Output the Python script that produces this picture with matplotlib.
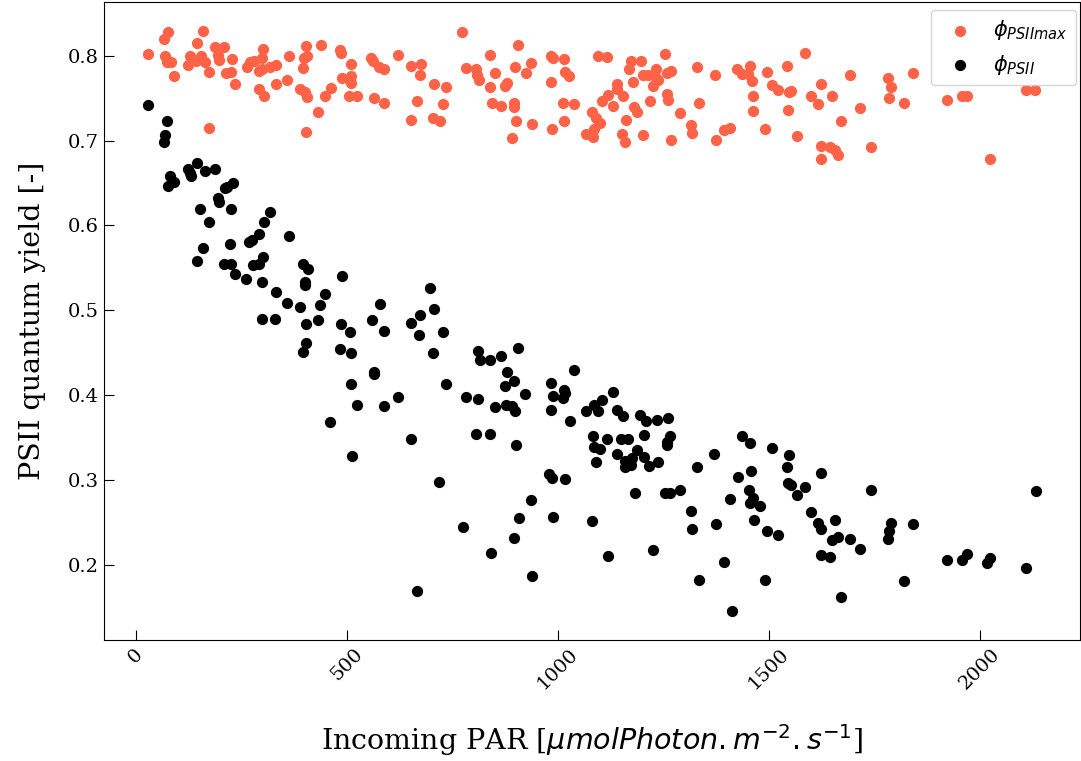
import numpy as np
import matplotlib

matplotlib.use('Agg')
import matplotlib.pyplot as plt

# PSII max quantum yield (red points)
par_max = [
    29.5, 67, 77, 69.5, 72.6, 82, 90.7, 123.7, 129, 145.6, 158, 143, 153.5, 163, 173, 173,
    187, 194, 197, 209, 213, 225, 228, 235, 262.7, 269.7, 280.8, 298.8, 302, 291, 298.8,
    292.5, 303.5, 318.5, 331, 333, 359, 363, 388, 397, 398.5, 406, 404, 401, 405, 402,
    431.5, 437.8, 448, 462, 483.4, 487, 489, 510.7, 509, 510.7, 506, 525, 556, 563, 576,
    589, 565, 588, 620.7, 652, 675, 673, 667, 653,
    707, 736, 727, 703, 720, 773, 783, 807, 809, 813, 838, 851, 838, 843, 866, 873.5, 880,
    898, 906, 897, 897, 901, 892, 925, 935.7, 939.5, 983.5, 987.5, 983, 986, 1015, 1016,
    1027.5, 1011, 1039, 1015, 1095, 1116, 1081, 1091, 1099, 1086, 1067, 1082.5, 1103.6,
    1118, 1139, 1140, 1130, 1155, 1161, 1151, 1159.5, 1169, 1174, 1196, 1177, 1181.5, 1187,
    1202.6, 1202.6, 1214, 1233, 1233, 1224.5, 1237, 1254, 1258, 1267, 1218, 1258, 1261.5,
    1267, 1290.5, 1316, 1318, 1330, 1334.5, 1371.5, 1374.5, 1392.6, 1408, 1425.6, 1436,
    1454.6, 1451.6, 1459, 1463, 1463,
    1495.5, 1506.5, 1520.6, 1542.5, 1547, 1553, 1546, 1491.6, 1567, 1586.6, 1600.7, 1624,
    1615.5, 1649.4, 1624, 1624, 1644, 1655.6, 1662.7, 1672, 1692.6, 1717, 1741.3, 1782,
    1789, 1785, 1820, 1841.7, 1921.8, 1957, 1969, 2023, 2109, 2131,
]
yield_max = [
    0.802, 0.820, 0.828, 0.799, 0.792, 0.792, 0.776, 0.789, 0.800, 0.815, 0.829, 0.794, 0.800, 0.792, 0.781, 0.715,
    0.810, 0.801, 0.795, 0.810, 0.779, 0.781, 0.796, 0.766, 0.786, 0.792, 0.794, 0.797, 0.808, 0.782, 0.784,
    0.761, 0.752, 0.786, 0.789, 0.767, 0.771, 0.799, 0.761, 0.785, 0.797, 0.799, 0.811, 0.757, 0.751, 0.710,
    0.734, 0.813, 0.752, 0.762, 0.807, 0.803, 0.774, 0.790, 0.776, 0.768, 0.752, 0.752, 0.797, 0.794, 0.787,
    0.784, 0.750, 0.744, 0.801, 0.788, 0.790, 0.777, 0.746, 0.724,
    0.766, 0.763, 0.743, 0.726, 0.723, 0.828, 0.785, 0.784, 0.777, 0.771, 0.801, 0.780, 0.763, 0.744, 0.741, 0.764, 0.768,
    0.786, 0.813, 0.744, 0.740, 0.723, 0.703, 0.779, 0.791, 0.719, 0.799, 0.797, 0.769, 0.714, 0.796, 0.781,
    0.776, 0.744, 0.743, 0.723, 0.799, 0.798, 0.734, 0.726, 0.721, 0.714, 0.708, 0.704, 0.747,
    0.754, 0.767, 0.761, 0.741, 0.753, 0.724, 0.708, 0.698, 0.784, 0.794, 0.794, 0.769, 0.739, 0.734,
    0.706, 0.777, 0.777, 0.784, 0.774, 0.764, 0.771, 0.802, 0.780, 0.782, 0.747, 0.755, 0.748,
    0.701, 0.732, 0.718, 0.709, 0.786, 0.744, 0.777, 0.701, 0.712, 0.715, 0.784, 0.778,
    0.788, 0.778, 0.770, 0.752, 0.735,
    0.781, 0.765, 0.759, 0.788, 0.757, 0.758, 0.736, 0.714, 0.705, 0.803, 0.752, 0.766,
    0.743, 0.752, 0.693, 0.678, 0.692, 0.689, 0.683, 0.723, 0.777, 0.738, 0.692, 0.774,
    0.763, 0.750, 0.744, 0.779, 0.748, 0.753, 0.753, 0.678, 0.759, 0.759,
]

# PSII effective quantum yield (black points)
par_eff = [
    29.5, 72.6, 69.5, 67, 144, 123.7, 127.6, 130, 163, 187, 80.5, 90.7, 76.6, 211, 217, 229.7,
    193.6, 196.7, 152.6, 225, 173, 318.5, 303.5, 291, 269, 275, 223.3, 159, 363, 145.6, 209,
    225.7, 234.4, 278, 291, 301, 261, 298, 333, 397, 407, 400, 400, 358.5, 388, 436, 298.7,
    330, 404, 430.6,
    448.8, 489.5, 404, 397, 487, 507, 484, 510.7, 577.6, 558.8, 587.7, 564, 564, 509, 524,
    587.7, 620.7, 461, 511.6, 651, 719, 696, 707, 674, 653, 672, 727.4, 703, 736, 783, 811,
    811.5, 815.5, 838, 866, 906.5, 880, 897, 874.5, 851, 877, 892, 898, 923, 807, 838, 901,
    1039, 983.5, 987.5, 1013.5, 1017, 1012, 983.5, 1029, 1066, 1085, 1096, 1104, 1129.6,
    1139, 1155, 1195.5, 1209.6, 1234, 1260.8, 1082.5, 1086.5, 1099, 1117, 1150, 1165, 1204,
    1188, 1140, 1091, 1160, 1176, 1160, 1173.6, 1203, 1217, 1237, 1257.5, 1266, 1259,
    1436.5, 1454.6, 1506.5, 1370.6, 1329, 1457.7, 1426.4, 1182, 1253, 1266, 1290.5, 1408,
    1452, 1462, 1456, 1480, 1315.7, 1319, 1374.6, 1465.7, 1496, 980, 986.6, 1016, 935.7,
    909, 897, 989, 1081, 842, 939.5, 1118.5, 1225.5, 1334.5, 1393.4, 1491.6,
    1548, 1542.6, 1623.5, 1546, 1553, 1586.6, 1567.7, 1741, 2132, 1520.6, 1600, 1615.6,
    1655.6, 1624, 1649.4, 1662.7, 1692.6, 1717, 1624, 1644.7, 1789, 1785, 1782, 1841, 1820,
    1672, 1922, 1958, 1969, 2018, 2023, 2109,
    774, 667, 1413,
]
yield_eff = [
    0.742, 0.723, 0.706, 0.698, 0.674, 0.666, 0.662, 0.658, 0.664, 0.667, 0.658, 0.651, 0.647, 0.644, 0.645, 0.650,
    0.632, 0.628, 0.619, 0.619, 0.604, 0.616, 0.604, 0.590, 0.581, 0.583, 0.578, 0.573, 0.588, 0.558, 0.555,
    0.555, 0.543, 0.553, 0.555, 0.563, 0.537, 0.534, 0.522, 0.555, 0.549, 0.533, 0.530, 0.509, 0.504, 0.506, 0.490,
    0.490, 0.484, 0.489,
    0.519, 0.540, 0.462, 0.451, 0.484, 0.474, 0.454, 0.450, 0.507, 0.489, 0.476, 0.428, 0.425, 0.413, 0.388,
    0.387, 0.398, 0.369, 0.329, 0.348, 0.298, 0.526, 0.502, 0.494, 0.485, 0.471, 0.474, 0.450, 0.413, 0.398, 0.396,
    0.452, 0.441, 0.441, 0.446, 0.456, 0.428, 0.417, 0.411, 0.386, 0.388, 0.387, 0.381, 0.401, 0.355, 0.354, 0.342,
    0.430, 0.414, 0.399, 0.406, 0.403, 0.397, 0.383, 0.370, 0.381, 0.388, 0.381, 0.395, 0.404,
    0.383, 0.376, 0.377, 0.370, 0.371, 0.373, 0.352, 0.339, 0.337, 0.348, 0.348, 0.348, 0.353,
    0.336, 0.331, 0.321, 0.323, 0.326, 0.315, 0.318, 0.327, 0.317, 0.322, 0.345, 0.352, 0.342,
    0.352, 0.344, 0.338, 0.331, 0.315, 0.311, 0.304, 0.285, 0.285, 0.285, 0.288, 0.278,
    0.288, 0.279, 0.273, 0.270, 0.264, 0.243, 0.249, 0.253, 0.240, 0.307, 0.303, 0.301, 0.277,
    0.255, 0.232, 0.257, 0.252, 0.214, 0.187, 0.211, 0.218, 0.183, 0.204, 0.183,
    0.330, 0.316, 0.309, 0.297, 0.294, 0.292, 0.283, 0.288, 0.287, 0.236, 0.262, 0.250,
    0.253, 0.242, 0.230, 0.233, 0.231, 0.219, 0.212, 0.210, 0.250, 0.240, 0.231, 0.248, 0.181,
    0.163, 0.206, 0.206, 0.213, 0.202, 0.208, 0.197,
    0.245, 0.169, 0.146,
]

plt.rcParams['font.family'] = 'DejaVu Serif'
plt.rcParams['mathtext.fontset'] = 'dejavusans'

fig = plt.figure(figsize=(10.81, 7.61), dpi=100)
ax = fig.add_axes([0.0962, 0.159, 0.9028, 0.8384])

ax.scatter(par_max, yield_max, s=50, color='tomato', label=r'$\phi_{PSIImax}$')
ax.scatter(par_eff, yield_eff, s=50, color='black', label=r'$\phi_{PSII}$')

ax.set_xlabel(r'Incoming PAR [$\mu molPhoton. m^{-2}. s^{-1}$]', fontsize=20.5, labelpad=21)
ax.set_ylabel('PSII quantum yield [-]', fontsize=20.5, labelpad=16)
ax.tick_params(direction='in', length=7, labelsize=14)
plt.setp(ax.get_xticklabels(), rotation=45)

ax.legend(loc='upper right', fontsize=15, bbox_to_anchor=(0.996, 0.9875),
          borderaxespad=0, handletextpad=0.6)

fig.savefig('out.png', dpi=100)
